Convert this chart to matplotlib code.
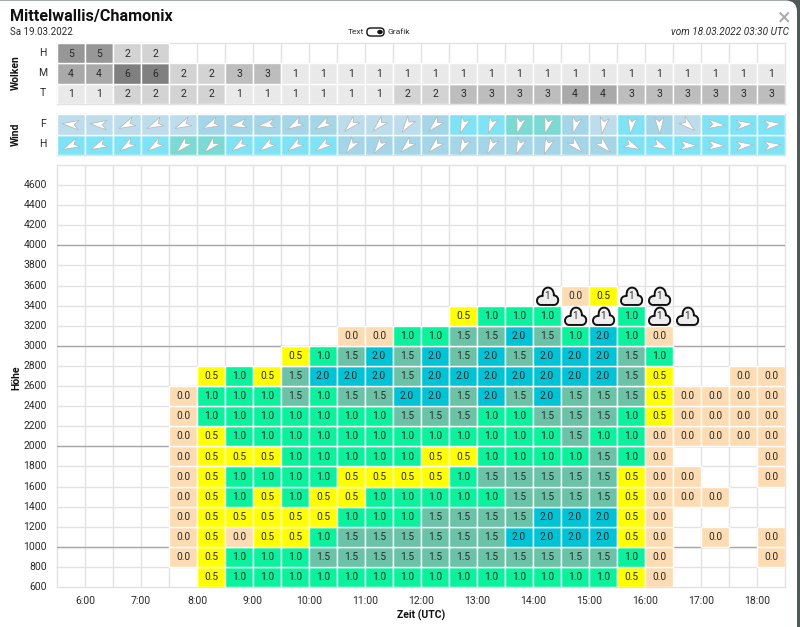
import numpy as np
import matplotlib
matplotlib.use("Agg")
import matplotlib.pyplot as plt
from matplotlib.path import Path
from matplotlib.markers import MarkerStyle
from matplotlib.patches import FancyBboxPatch
from matplotlib.transforms import Affine2D

plt.rcParams['font.family'] = ['Roboto', 'DejaVu Sans']

N = None

# half hour columns, value is the left edge of the cell in hours
times = [5.5 + 0.5 * i for i in range(26)]
hour_ticks = [6, 7, 8, 9, 10, 11, 12, 13, 14, 15, 16, 17, 18]

cloud_high = [5, 5, 2, 2] + [N] * 22
cloud_mid = [4, 4, 6, 6, 2, 2, 3, 3] + [1] * 18
cloud_low = [1, 1, 2, 2, 2, 2, 1, 1, 1, 1, 1, 1, 2, 2, 3, 3, 3, 3, 4, 4, 3, 3, 3, 3, 3, 3]

# direction the arrow points to (degrees, 0 = right, counter clockwise)
wind_f_dir = [175, 175, 205, 205, 205, 205, 190, 190, 210, 210, 225, 225, 235, 225, 250, 250, 255, 255, 255, 260, 262, 272, 320, 355, 5, 5]
wind_h_dir = [205, 205, 215, 215, 225, 225, 215, 215, 215, 215, 235, 235, 225, 225, 245, 245, 250, 250, 315, 315, 335, 335, 358, 358, 5, 5]
# colour class of the wind cells
wind_f_class = [0, 0, 0, 0, 0, 1, 1, 1, 1, 1, 0, 0, 0, 1, 2, 2, 3, 3, 1, 0, 2, 1, 0, 2, 2, 2]
wind_h_class = [2, 2, 2, 2, 3, 3, 2, 2, 2, 2, 1, 1, 1, 1, 1, 1, 1, 1, 1, 1, 2, 2, 2, 2, 2, 2]

heights = list(range(600, 3600, 200))
h600 = [N, N, N, N, N, .5, 1, 1, 1, 1, 1, 1, 1, 1, 1, 1, 1, 1, 1, 1, .5, 0, N, N, N, N]
h800 = [N, N, N, N, 0, .5, 1, 1, 1, 1.5, 1.5, 1.5, 1.5, 1.5, 1.5, 1.5, 1.5, 1.5, 1.5, 1.5, 1, 0, N, N, N, 0]
h1000 = [N, N, N, N, 0, .5, 0, .5, .5, 1, 1.5, 1.5, 1.5, 1.5, 1.5, 1.5, 2, 2, 2, 2, .5, 0, N, 0, N, 0]
h1200 = [N, N, N, N, 0, .5, .5, .5, .5, .5, 1, 1, 1, 1.5, 1.5, 1.5, 1.5, 2, 2, 2, .5, 0, N, N, N, N]
h1400 = [N, N, N, N, 0, .5, 1, .5, 1, .5, .5, 1, 1, 1, 1, 1, 1.5, 1.5, 1.5, 1.5, .5, 0, 0, 0, N, N]
h1600 = [N, N, N, N, 0, .5, 1, 1, 1, 1, .5, .5, .5, .5, 1, 1.5, 1.5, 1.5, 1.5, 1.5, .5, 0, 0, N, N, 0]
h1800 = [N, N, N, N, 0, .5, .5, .5, 1, 1, 1, 1, 1, .5, .5, 1, 1, 1, 1, 1.5, 1, 0, N, N, N, 0]
h2000 = [N, N, N, N, 0, .5, 1, 1, 1, 1, 1, 1, 1, 1, 1, 1, 1, 1, 1.5, 1, 1, 0, 0, 0, 0, 0]
h2200 = [N, N, N, N, 0, 1, 1, 1, 1, 1, 1, 1, 1.5, 1.5, 1.5, 1, 1, 1.5, 1.5, 1.5, 1, .5, 0, 0, 0, 0]
h2400 = [N, N, N, N, 0, 1, 1, 1, 1.5, 1, 1.5, 1.5, 2, 2, 1.5, 2, 1.5, 2, 1.5, 1.5, 1.5, .5, 0, 0, 0, 0]
h2600 = [N, N, N, N, N, .5, 1, .5, 1.5, 2, 2, 2, 1.5, 2, 2, 2, 2, 2, 2, 2, 1.5, .5, N, N, 0, 0]
h2800 = [N, N, N, N, N, N, N, N, .5, 1, 1.5, 2, 1.5, 2, 1.5, 2, 1.5, 2, 2, 2, 1.5, 1, N, N, N, N]
h3000 = [N, N, N, N, N, N, N, N, N, N, 0, 0, 1, 1, 1.5, 1.5, 2, 1.5, 1, 2, 1, 0, N, N, N, N]
h3200 = [N, N, N, N, N, N, N, N, N, N, N, N, N, N, .5, 1, 1, 1, N, N, 1, N, N, N, N, N]
h3400 = [N, N, N, N, N, N, N, N, N, N, N, N, N, N, N, N, N, N, 0, .5, N, N, N, N, N, N]
rows = [h600, h800, h1000, h1200, h1400, h1600, h1800, h2000, h2200, h2400, h2600, h2800, h3000, h3200, h3400]

# cells holding the cloud symbol
cumulus_time = [14.0, 15.5, 16.0, 14.5, 15.0, 16.0, 16.5]
cumulus_height = [3400, 3400, 3400, 3200, 3200, 3200, 3200]
cumulus_value = [1, 1, 1, 1, 1, 1, 1]

value_colors = {0: "#fddcb4", .5: "#ffff00", 1: "#0cf29c", 1.5: "#6ac3a6", 2: "#00c3d6"}
cloud_colors = {1: "#e9e9e9", 2: "#d3d3d3", 3: "#bdbdbd", 4: "#a9a9a9", 5: "#979797", 6: "#808080"}
wind_colors = {0: "#bddcec", 1: "#a5d6e8", 2: "#7fe3f6", 3: "#7bdad4"}
text_col = "#2a2a2a"
grid_col = "#e2e2e2"
line_col = "#a8a8a8"

W, H = 800, 627


def add_axes(fig, left, top, right, bottom):
    return fig.add_axes([left / W, 1 - bottom / H, (right - left) / W, (bottom - top) / H])


def setup(ax, ylim):
    ax.set_xlim(5.5, 18.5)
    ax.set_ylim(*ylim)
    for s in ax.spines.values():
        s.set_visible(False)
    ax.set_xticks(np.arange(5.5, 18.51, 0.5))
    ax.tick_params(length=0, labelbottom=False, labelleft=False)
    ax.grid(True, color=grid_col, lw=1, clip_on=False)
    ax.set_axisbelow(True)
    ax.patch.set_alpha(0)


fig = plt.figure(figsize=(8, 6.27), dpi=100, facecolor="#4d5a58")
dialog = FancyBboxPatch((-12 / W, -12 / H), 809 / W, 1.0 + 11.5 / H, boxstyle="round,pad=0,rounding_size=0.014",
                        transform=fig.transFigure, fc="white", ec="none", mutation_aspect=W / H, zorder=-1)
fig.patches.append(dialog)

# clouds
ax_c = add_axes(fig, 57, 43, 785, 104)
setup(ax_c, (0, 3))
ax_c.set_yticks([0, 1, 2, 3])
for r, vals in enumerate([cloud_low, cloud_mid, cloud_high]):
    for t, v in zip(times, vals):
        if v is None:
            continue
        ax_c.bar(t, 1, width=0.5, bottom=r, align="edge", color=cloud_colors[v], edgecolor="white", lw=1)
        ax_c.text(t + 0.25, r + 0.48, str(v), ha="center", va="center", fontsize=7.5, color=text_col)

# wind
dart = Path([(1, 0), (-0.75, 0.5), (-0.3, 0), (-0.75, -0.5), (1, 0)], closed=True)
ax_w = add_axes(fig, 57, 114, 785, 155)
setup(ax_w, (0, 2))
ax_w.set_yticks([0, 1, 2])
for r, (cls, dirs) in enumerate([(wind_h_class, wind_h_dir), (wind_f_class, wind_f_dir)]):
    for t, c, d in zip(times, cls, dirs):
        ax_w.bar(t, 1, width=0.5, bottom=r, align="edge", color=wind_colors[c], edgecolor="white", lw=1)
        ax_w.plot(t + 0.25, r + 0.5, marker=MarkerStyle(dart, transform=Affine2D().rotate_deg(d)), ms=13.5,
                  mfc="white", mec="#b4b4b4", mew=0.5, ls="none")

# main table
ax = add_axes(fig, 57, 165, 785, 587)
setup(ax, (600, 4800))
ax.set_yticks(np.arange(600, 4801, 200))
for lvl in [1000, 2000, 3000, 4000]:
    ax.axhline(lvl, color=line_col, lw=1, zorder=1)
for h, vals in zip(heights, rows):
    for t, v in zip(times, vals):
        if v is None:
            continue
        ax.bar(t, 200, width=0.5, bottom=h, align="edge", color=value_colors[v], edgecolor="white", lw=1, zorder=2)
        ax.text(t + 0.25, h + 98, "%.1f" % v, ha="center", va="center", fontsize=7.3, color=text_col, zorder=3)

cloud_sym = Path(
    [(-0.6, -0.8), (0.6, -0.8),
     (1.15, -0.8), (1.15, 0.1), (0.6, 0.1),
     (0.65, 1.1), (-0.6, 1.1), (-0.45, 0.05),
     (-1.15, 0.1), (-1.15, -0.8), (-0.6, -0.8),
     (-0.6, -0.8)],
    [Path.MOVETO, Path.LINETO,
     Path.CURVE4, Path.CURVE4, Path.CURVE4,
     Path.CURVE4, Path.CURVE4, Path.CURVE4,
     Path.CURVE4, Path.CURVE4, Path.CURVE4,
     Path.CLOSEPOLY])
ax.plot([t + 0.25 for t in cumulus_time], [h + 100 for h in cumulus_height], marker=cloud_sym, ms=17.5, mfc="#eeeeee",
        mec="#111111", mew=1.4, ls="none", zorder=4)
for t, h, v in zip(cumulus_time, cumulus_height, cumulus_value):
    ax.text(t + 0.25, h + 100, str(v), ha="center", va="center", fontsize=7, color=text_col, zorder=5)

# tick labels
for tick in hour_ticks:
    ax.text(tick, 600 - 14 * 200 / 20.1, "%d:00" % tick, ha="center", va="center", fontsize=7.5, color=text_col,
            clip_on=False)
for lvl in range(600, 4601, 200):
    ax.text(5.5 - 10 / 56, lvl, str(lvl), ha="right", va="center", fontsize=7.5, color=text_col, clip_on=False)


def ftext(x, y, s, **kw):
    fig.text(x / W, 1 - y / H, s, va="center", color=kw.pop("color", "#111111"), **kw)


ftext(10, 17, "Mittelwallis/Chamonix", fontsize=11.6, fontweight="bold", ha="left")
ftext(10, 32, "Sa 19.03.2022", fontsize=7, ha="left", color=text_col)
ftext(789, 32, "vom 18.03.2022 03:30 UTC", fontsize=7.2, ha="right", style="italic", color=text_col)
ftext(348, 32, "Text", fontsize=6, ha="left", color=text_col)
ftext(388, 32, "Grafik", fontsize=6, ha="left", color=text_col)
ftext(784, 18, "\u00d7", fontsize=17, ha="center", color="#ababab")

# switch between text and graphic view
fig.patches.append(FancyBboxPatch((367 / W, 1 - 36 / H), 17 / W, 8 / H, boxstyle="round,pad=0,rounding_size=0.005",
                                  transform=fig.transFigure, fc="white", ec="#111111", lw=1))
fig.patches.append(plt.Circle((380 / W, 1 - 32 / H), 0.0035, transform=fig.transFigure, fc="#111111", ec="none"))

ftext(43, 53, "H", fontsize=7.5, ha="center", color=text_col)
ftext(43, 73, "M", fontsize=7.5, ha="center", color=text_col)
ftext(43, 93, "T", fontsize=7.5, ha="center", color=text_col)
ftext(43, 124, "F", fontsize=7.5, ha="center", color=text_col)
ftext(43, 144, "H", fontsize=7.5, ha="center", color=text_col)
ftext(16, 73, "Wolken", fontsize=7.5, fontweight="bold", ha="center", rotation=90)
ftext(16, 134, "Wind", fontsize=7.5, fontweight="bold", ha="center", rotation=90)
ftext(16, 378, "H\u00f6he", fontsize=7.5, fontweight="bold", ha="center", rotation=90)
ftext(421, 615, "Zeit (UTC)", fontsize=7.5, fontweight="bold", ha="center")

plt.savefig("out.png", dpi=100, facecolor=fig.get_facecolor())
